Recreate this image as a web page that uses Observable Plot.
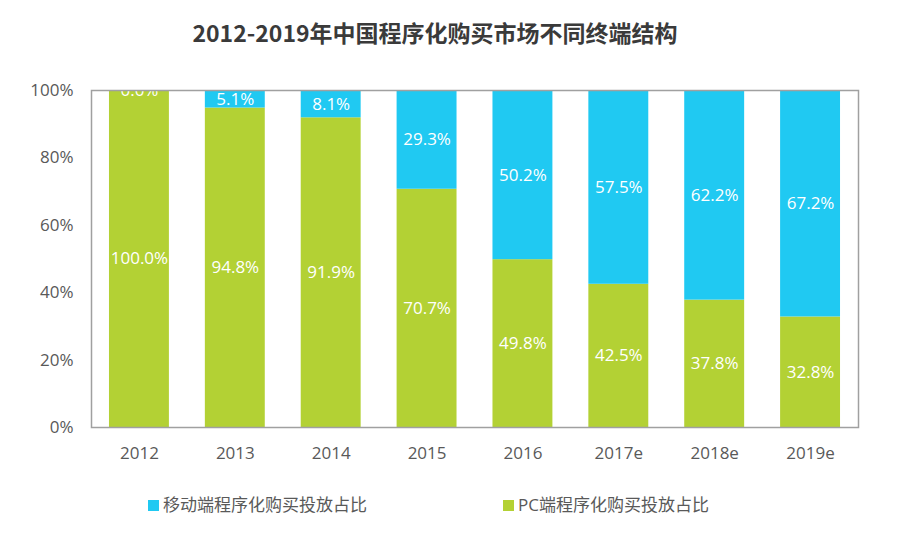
<!DOCTYPE html>
<html>
<head>
<meta charset="utf-8">
<script src="https://cdn.jsdelivr.net/npm/d3@7"></script>
<script src="https://cdn.jsdelivr.net/npm/@observablehq/plot@0.6"></script>
<style>
  html, body { margin: 0; padding: 0; background: #fff; }
  #wrap { position: relative; width: 903px; height: 544px; overflow: hidden; }
  #title { position: absolute; left: 0; top: 14px; width: 870px; text-align: center;
    font-family: "Noto Sans CJK SC", sans-serif; font-weight: 700; font-size: 23px; color: #3a3a3a; line-height: 36px; }
  #chart { position: absolute; left: 0; top: 70px; }
  .leg { position: absolute; top: 493px; display: flex; align-items: center;
    font-family: "Open Sans", "Noto Sans CJK SC", sans-serif; font-size: 17px; color: #595959; line-height: 24px; }
  .sw { width: 11px; height: 11px; margin-right: 4px; }
</style>
</head>
<body>
<div id="wrap">
  <div id="title">2012-2019年中国程序化购买市场不同终端结构</div>
  <div id="chart"></div>
  <div id="legend"></div>
</div>
<script>
const years = ["2012", "2013", "2014", "2015", "2016", "2017e", "2018e", "2019e"];
const seriesNames = ["PC端程序化购买投放占比", "移动端程序化购买投放占比"];
const seriesColors = ["#b3d134", "#20c9f2"];
const pcShare = [100.0, 94.8, 91.9, 70.7, 49.8, 42.5, 37.8, 32.8];
const mobileShare = [0.0, 5.1, 8.1, 29.3, 50.2, 57.5, 62.2, 67.2];
const yTicks = [0, 20, 40, 60, 80, 100];

const rows = [];
years.forEach((yr, i) => {
  rows.push({year: yr, series: seriesNames[0], value: pcShare[i]});
  rows.push({year: yr, series: seriesNames[1], value: mobileShare[i]});
});

const chart = Plot.plot({
  width: 903,
  height: 400,
  marginTop: 20,
  marginBottom: 43,
  marginLeft: 91,
  marginRight: 45,
  style: {fontSize: "17px", fontFamily: "Open Sans, sans-serif", color: "#595959", background: "transparent"},
  x: {domain: years, paddingInner: 0.375, paddingOuter: 0.1875, round: false, label: null},
  y: {domain: [0, 100], label: null},
  color: {domain: seriesNames, range: seriesColors},
  marks: [
    Plot.barY(rows, Plot.stackY({x: "year", y: "value", fill: "series", order: seriesNames})),
    Plot.text(rows, Plot.stackY({x: "year", y: "value", z: "series", order: seriesNames,
      text: d => d.value.toFixed(1) + "%", fill: "white", fontSize: 17, clip: true})),
    Plot.frame({stroke: "#a0a0a0", strokeWidth: 1.5}),
    Plot.axisY({ticks: yTicks, tickFormat: d => d + "%", tickSize: 0, tickPadding: 18, label: null}),
    Plot.axisX({tickSize: 0, tickPadding: 19, label: null})
  ]
});
document.getElementById("chart").appendChild(chart);

const legend = document.getElementById("legend");
const legLeft = [148, 503];
[1, 0].forEach((si, k) => {
  const item = document.createElement("div");
  item.className = "leg";
  item.style.left = legLeft[k] + "px";
  const sw = document.createElement("div");
  sw.className = "sw";
  sw.style.background = seriesColors[si];
  const tx = document.createElement("span");
  tx.textContent = seriesNames[si];
  item.appendChild(sw);
  item.appendChild(tx);
  legend.appendChild(item);
});
</script>
</body>
</html>
